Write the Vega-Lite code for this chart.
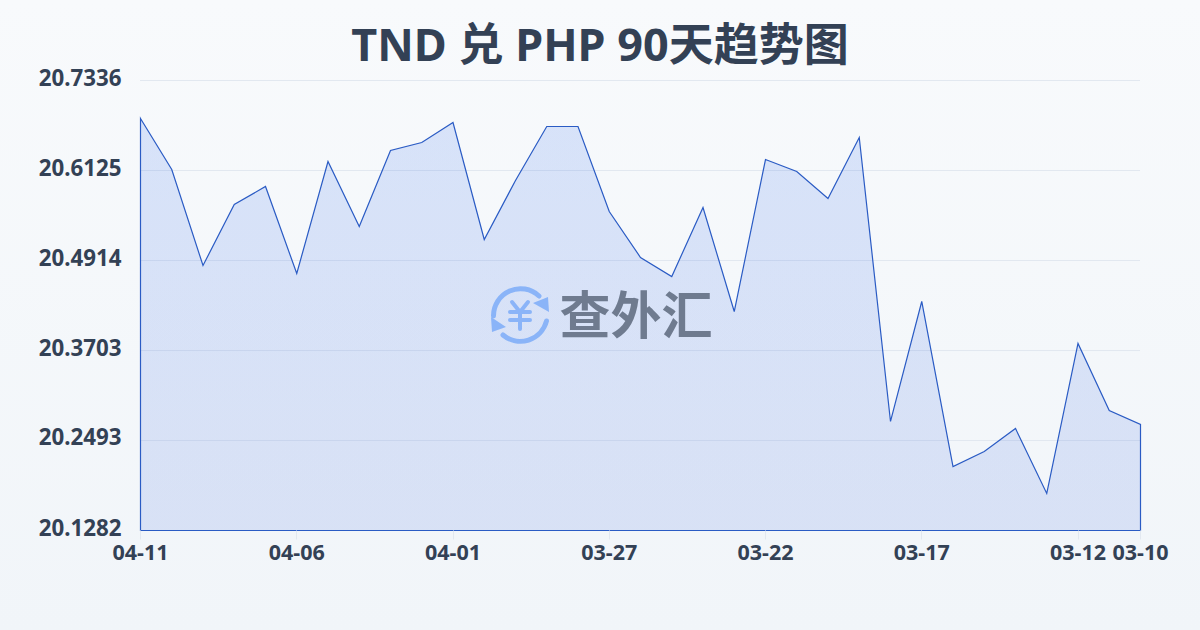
{
"$schema":"https://vega.github.io/schema/vega-lite/v6.json",
"width":1000,"height":450,
"autosize":{"type":"none"},
"padding":{"left":140,"top":80,"right":60,"bottom":100},
"background":"#f5f7fa",
"title":{"text":"TND 兑 PHP 90天趋势图","fontSize":45,"fontWeight":"bold","color":"#334155","font":"Noto Sans, Noto Sans CJK SC","anchor":"middle","dx":-40,"offset":-106,"baseline":"alphabetic"},
"config":{"view":{"stroke":null}},
"datasets":{"rates":[
{"date":"04-11","rate":20.6825},{"date":"04-10","rate":20.6139},{"date":"04-09","rate":20.4847},{"date":"04-08","rate":20.5668},{"date":"04-07","rate":20.5910},{"date":"04-06","rate":20.4740},{"date":"04-05","rate":20.6246},{"date":"04-04","rate":20.5372},{"date":"04-03","rate":20.6394},{"date":"04-02","rate":20.6502},{"date":"04-01","rate":20.6771},{"date":"03-31","rate":20.5197},{"date":"03-30","rate":20.5991},{"date":"03-29","rate":20.6717},{"date":"03-28","rate":20.6717},{"date":"03-27","rate":20.5574},{"date":"03-26","rate":20.4955},{"date":"03-25","rate":20.4699},{"date":"03-24","rate":20.5627},{"date":"03-23","rate":20.4228},{"date":"03-22","rate":20.6273},{"date":"03-21","rate":20.6112},{"date":"03-20","rate":20.5748},{"date":"03-19","rate":20.6569},{"date":"03-18","rate":20.2749},{"date":"03-17","rate":20.4363},{"date":"03-16","rate":20.2143},{"date":"03-15","rate":20.2345},{"date":"03-14","rate":20.2654},{"date":"03-13","rate":20.1780},{"date":"03-12","rate":20.3798},{"date":"03-11","rate":20.2897},{"date":"03-10","rate":20.2708}
]},
"layer":[
{"data":{"values":[{"bg":1}]},
 "mark":{"type":"rect","fill":{"gradient":"linear","x1":0,"y1":0,"x2":0,"y2":1,"stops":[{"offset":0,"color":"#f8fafc"},{"offset":1,"color":"#f1f5f9"}]}},
 "encoding":{"x":{"value":-140},"x2":{"value":1060},"y":{"value":-80},"y2":{"value":550}}},
{"data":{"values":[{"tick":20.1282},{"tick":20.2493},{"tick":20.3703},{"tick":20.4914},{"tick":20.6125},{"tick":20.7336}]},
 "mark":{"type":"rule","stroke":"#e2e8f0","strokeWidth":1,"yOffset":0.5},
 "encoding":{"y":{"field":"tick","type":"quantitative","title":null,"scale":{"domain":[20.1282,20.7336],"nice":false,"zero":false},
   "axis":{"values":[20.1282,20.2493,20.3703,20.4914,20.6125,20.7336],"format":".4f","labelFontSize":22.3,"labelFontWeight":"bold","labelColor":"#334155","labelFont":"Noto Sans","labelOffset":-2,"domain":false,"ticks":false,"grid":false,"labelPadding":19,"zindex":1}}}},
{"data":{"name":"rates"},
 "mark":{"type":"area","stroke":"#2a5bc4","strokeWidth":1.2,"xOffset":0.5,"yOffset":0.5,"y2Offset":0.5,"fill":{"gradient":"linear","x1":0,"y1":0,"x2":0,"y2":1,"stops":[{"offset":0,"color":"rgba(37,99,235,0.15)"},{"offset":1,"color":"rgba(29,78,216,0.12)"}]}},
 "encoding":{
  "x":{"field":"date","type":"ordinal","sort":null,"title":null,"scale":{"type":"point","padding":0},
   "axis":{"values":["04-11","04-06","04-01","03-27","03-22","03-17","03-12","03-10"],"labelAngle":0,"labelFontSize":21.5,"labelFontWeight":"bold","labelColor":"#334155","labelFont":"Noto Sans","domain":false,"grid":false,"tickColor":"#e2e8f0","tickSize":9,"labelPadding":3,"labelOverlap":false,"zindex":1}},
  "y":{"field":"rate","type":"quantitative","title":null,"scale":{"domain":[20.1282,20.7336],"nice":false,"zero":false},
   "axis":{"values":[20.1282,20.2493,20.3703,20.4914,20.6125,20.7336],"format":".4f","labelFontSize":22.3,"labelFontWeight":"bold","labelColor":"#334155","labelFont":"Noto Sans","labelOffset":-2,"domain":false,"ticks":false,"grid":false,"labelPadding":19,"zindex":1}},
  "y2":{"datum":20.1282}
 }},
{"data":{"values":[{"brand":"查外汇"}]},
 "mark":{"type":"text","font":"Noto Sans CJK SC","fontWeight":"bold","fontSize":51,"color":"#6f7b8f","align":"center","baseline":"middle","x":496,"y":239},
 "encoding":{"text":{"field":"brand"}}},
{"data":{"values":[{"logo":"arcs"}]},
 "mark":{"type":"point","filled":false,"fill":null,"stroke":"#8ab4f8","strokeWidth":5,"strokeOpacity":1,"opacity":1,"strokeCap":"round","x":380,"y":235,"size":40000,
  "shape":"M-0.265,0.01 A0.27,0.27 0 0 1 0.19,-0.19 M0.265,0.06 A0.27,0.27 0 0 1 -0.17,0.2"},
 "encoding":{}},
{"data":{"values":[{"logo":"yen"}]},
 "mark":{"type":"point","filled":false,"fill":null,"stroke":"#8ab4f8","strokeWidth":4,"strokeOpacity":1,"opacity":1,"strokeCap":"round","x":380,"y":235,"size":40000,
  "shape":"M-0.08,-0.13 L0,-0.03 L0.08,-0.13 M-0.1,-0.03 L0.1,-0.03 M-0.1,0.05 L0.1,0.05 M0,-0.03 L0,0.14"},
 "encoding":{}},
{"data":{"values":[{"logo":"arrows"}]},
 "mark":{"type":"point","filled":true,"fill":"#8ab4f8","stroke":null,"opacity":1,"x":380,"y":235,"size":40000,
  "shape":"M0.29,-0.03 L0.28,-0.18 L0.13,-0.12 Z M-0.29,0.02 L-0.28,0.17 L-0.14,0.12 Z"},
 "encoding":{}}
]
}
